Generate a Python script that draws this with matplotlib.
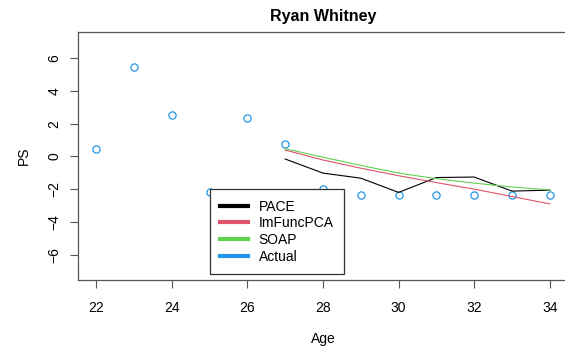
import numpy as np
import matplotlib.pyplot as plt
from matplotlib.lines import Line2D

plt.rcParams['font.family'] = ['Liberation Sans', 'DejaVu Sans']

# observed values
age = [22, 23, 24, 25, 26, 27, 28, 29, 30, 31, 32, 33, 34]
actual = [0.45, 5.44, 2.52, -2.18, 2.32, 0.76, -2.0, -2.35, -2.35, -2.35, -2.35, -2.35, -2.35]

# predictions from age 27 on
pred_age = [27, 28, 29, 30, 31, 32, 33, 34]
pace = [-0.16, -1.02, -1.33, -2.2, -1.29, -1.26, -2.12, -2.06]
imfuncpca = [0.39, -0.22, -0.72, -1.18, -1.6, -2.0, -2.45, -2.9]
soap = [0.47, -0.05, -0.55, -1.02, -1.36, -1.63, -1.87, -2.05]

c_pace = 'black'
c_imf = '#DF536B'
c_soap = '#61D04F'
c_act = '#2297E6'

fig = plt.figure(figsize=(5.65, 3.52), dpi=100)
ax = fig.add_axes([78 / 565, 72 / 352, 490 / 565, 248 / 352])

ax.plot(age, actual, 'o', mfc='none', mec=c_act, ms=5.2, mew=0.9)
ax.plot(pred_age, pace, color=c_pace, lw=0.8)
ax.plot(pred_age, imfuncpca, color=c_imf, lw=0.8)
ax.plot(pred_age, soap, color=c_soap, lw=0.8)

ax.set_xlim(21.52, 34.48)
ax.set_ylim(-7.55, 7.6)
ax.set_xticks(np.arange(22, 35, 2))
ax.set_yticks(np.arange(-6, 7, 2))
for lab in ax.get_yticklabels():
    lab.set_rotation(90)
    lab.set_va('center')
ax.tick_params(length=6, width=0.8, color='#555555', labelsize=10)
ax.tick_params(axis='x', pad=9)
ax.tick_params(axis='y', pad=6)
for s in ax.spines.values():
    s.set_color('#555555')
    s.set_linewidth(0.9)

ax.set_title('Ryan Whitney', fontsize=11.5, fontweight='bold', pad=8)
ax.set_xlabel('Age', fontsize=10, labelpad=12)
ax.set_ylabel('PS', fontsize=10, labelpad=12)

handles = [Line2D([], [], color=c, lw=3) for c in (c_pace, c_imf, c_soap, c_act)]
leg = ax.legend(handles, ['PACE', 'ImFuncPCA', 'SOAP', 'Actual'],
                loc='upper left', bbox_to_anchor=(25.01, -2.0),
                bbox_transform=ax.transData, fontsize=10, fancybox=False,
                edgecolor='#333333', framealpha=1, borderaxespad=0,
                handlelength=2.0, handletextpad=0.75, labelspacing=0.2,
                borderpad=0.75)
leg.get_frame().set_linewidth(0.9)

fig.savefig('out.png', dpi=100)
